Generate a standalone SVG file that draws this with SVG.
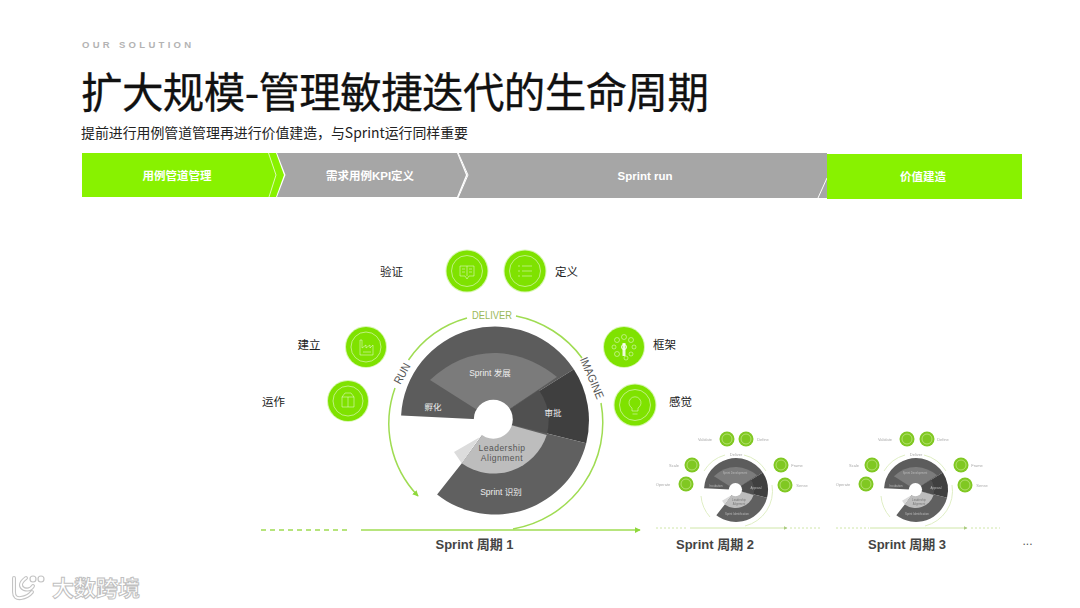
<svg xmlns="http://www.w3.org/2000/svg" xmlns:xlink="http://www.w3.org/1999/xlink" width="1080" height="608" viewBox="0 0 1080 608">
<style>
text{font-family:"Liberation Sans","Noto Sans CJK SC",sans-serif}
.cjk{font-family:"Noto Sans CJK SC","Liberation Sans",sans-serif}
.bar{font-size:11.500px;font-weight:700;fill:#fff;text-anchor:middle}
.lab{font-size:11.500px;fill:#222;text-anchor:middle}
.in{font-size:8.500px;fill:#eee;text-anchor:middle}
.cycle{font-size:13px;font-weight:700;fill:#444;text-anchor:middle}
.node{fill:#7fe200;stroke:#7fe200;stroke-opacity:.3;stroke-width:2}
.ring{fill:none;stroke:#fff;stroke-opacity:.5;stroke-width:1}
.ico{fill:none;stroke:#fff;stroke-opacity:.5;stroke-width:.9}
.arc{fill:none;stroke:#9fdc52;stroke-width:1.500}
.base{fill:none;stroke:#9fdc52;stroke-width:1.500}
.dash{stroke-dasharray:5 4}
.mnode{fill:#80c822}
.mring{fill:none;stroke:#d4eea0;stroke-width:.6}
.mtxt{font-size:4px;fill:#aaa;text-anchor:middle}
.mw{font-size:2.800px;fill:#bbb;text-anchor:middle}
.march{fill:none;stroke:#dfeec4;stroke-width:1}
.mbase{fill:none;stroke:#cfe6a8;stroke-width:1}
.mdash{stroke-dasharray:2 2}
</style>
<defs>
<marker id="ah" viewBox="0 0 8 8" refX="7" refY="4" markerWidth="6" markerHeight="6" markerUnits="userSpaceOnUse" orient="auto"><path d="M0 0L8 4L0 8Z" fill="#8fd83c"/></marker>
<marker id="ahm" viewBox="0 0 8 8" refX="7" refY="4" markerWidth="4" markerHeight="4" markerUnits="userSpaceOnUse" orient="auto"><path d="M0 0L8 4L0 8Z" fill="#aacb80"/></marker>
<filter id="soft" x="-5%" y="-5%" width="110%" height="110%"><feGaussianBlur stdDeviation="0.550"/></filter>
<g id="wheel">
<path d="M493 420L401.100 415.600A94 94 0 0 1 573.800 369.300Z" fill="#5c5c5c"/>
<path d="M430 380Q460 352 497 353Q530 355 557 377L493 420Z" fill="#7b7b7b"/>
<path d="M493 420L573.800 369.300A94 94 0 0 1 586.200 443.200Z" fill="#3f3f3f"/>
<path d="M493 420L539 390A55 55 0 0 1 546.700 435Z" fill="#505050"/>
<path d="M493 420L586.200 443.200A94 94 0 0 1 437.100 494.600L462 463Z" fill="#606060"/>
<path d="M493 420L546.700 435A55.500 55.500 0 0 1 461.700 463.300Z" fill="#bdbdbd"/>
<path d="M454 452L480 437L486 428L461.700 463.300Z" fill="#dcdcdc"/>
<circle cx="493.300" cy="419.300" r="19.500" fill="#fff"/>
</g>
</defs>
<rect width="1080" height="608" fill="#fff"/>
<text x="82" y="47.500" font-size="9.500" font-weight="700" letter-spacing="3.300" fill="#b3b3b3">OUR SOLUTION</text>
<text class="cjk" x="81" y="108" font-size="41.500" fill="#111" stroke="#111" stroke-width=".3" textLength="628" lengthAdjust="spacing">扩大规模-管理敏捷迭代的生命周期</text>
<text class="cjk" x="81" y="138" font-size="14" fill="#222" textLength="387" lengthAdjust="spacingAndGlyphs">提前进行用例管道管理再进行价值建造，与Sprint运行同样重要</text>
<g id="phase-bar">
<g id="phase-1"><path d="M82 153H276L284 175L276 197H82Z" fill="#88f200"/><path d="M268.500 153L276 175L269 197" fill="none" stroke="#fff" stroke-opacity=".7" stroke-width="1"/><text class="bar" x="177" y="180">用例管道管理</text></g>
<g id="phase-2"><path d="M277 153H457L466 175L457 197H277L285.500 175Z" fill="#a6a6a6"/><text class="bar" x="370" y="180">需求用例KPI定义</text></g>
<g id="phase-3"><path d="M458 153H827V198H458L467.500 175Z" fill="#a6a6a6"/><path d="M458 152.500L468 175L458 198" fill="none" stroke="#fff" stroke-width="1"/><path d="M827 178L818 198" stroke="#fff" stroke-width="1"/><text class="bar" x="645" y="180">Sprint run</text></g>
<g id="phase-4"><rect x="827" y="154" width="195" height="45" fill="#88f200"/><text class="bar" x="923" y="181">价值建造</text></g>
</g>
<g id="connectors">
<path class="arc" d="M408.500 360A105 105 0 0 1 467 318"/>
<path class="arc" d="M516 316A107 107 0 0 1 582 358"/>
<path class="arc" d="M601 403A108 108 0 0 1 513 529"/>
<path class="arc" d="M395 388A105 105 0 0 0 418 496" marker-end="url(#ah)"/>
<path class="base dash" d="M261 530H350"/>
<path class="base" d="M361 530H640" marker-end="url(#ah)"/>
</g>
<g id="main-wheel">
<use href="#wheel"/>
<text class="in" x="490" y="376">Sprint 发展</text>
<text class="in" x="433" y="410">孵化</text>
<text class="in" x="553" y="416">审批</text>
<text class="in" x="502" y="451" style="fill:#555;letter-spacing:.5px">Leadership</text>
<text class="in" x="502" y="461" style="fill:#555;letter-spacing:.5px">Alignment</text>
<text class="in" x="501" y="495">Sprint 识别</text>
<text x="492" y="319" font-size="10.500" fill="#9ab85a" text-anchor="middle" textLength="40" lengthAdjust="spacingAndGlyphs">DELIVER</text>
<text transform="translate(402 373.500) rotate(-61)" y="4" font-size="11.500" fill="#555" text-anchor="middle" textLength="22" lengthAdjust="spacingAndGlyphs">RUN</text>
<text transform="translate(592 378) rotate(67)" y="4" font-size="11.500" fill="#555" text-anchor="middle" textLength="44" lengthAdjust="spacingAndGlyphs">IMAGINE</text>
</g>
<g id="node-validate"><circle class="node" cx="467" cy="271" r="20.500"/><circle class="ring" cx="467" cy="271" r="15.500"/><path class="ico" d="M460 266H474V276H469L467 279L465 276H460ZM467 266V276M462 269H465M469 269H472M462 272H465M469 272H472"/><text class="lab cjk" x="391.500" y="275.500">验证</text></g>
<g id="node-define"><circle class="node" cx="525" cy="271" r="20.500"/><circle class="ring" cx="525" cy="271" r="15.500"/><path class="ico" d="M518 266H520M522 266H532M518 271H520M522 271H532M518 276H520M522 276H532"/><text class="lab cjk" x="566.500" y="275.500">定义</text></g>
<g id="node-build"><circle class="node" cx="366" cy="347" r="20"/><circle class="ring" cx="366" cy="347" r="15"/><path class="ico" d="M360 355V340H362V348L366 345V348L370 345V348L373 345V355ZM363 352H371"/><text class="lab cjk" x="309" y="348.500">建立</text></g>
<g id="node-operate"><circle class="node" cx="348" cy="401" r="20"/><circle class="ring" cx="348" cy="401" r="15"/><path class="ico" d="M342 397H354V407H342ZM342 397L345 393H351L354 397M348 397V407"/><text class="lab cjk" x="273.500" y="406">运作</text></g>
<g id="node-frame"><circle class="node" cx="624" cy="347" r="20"/><circle class="ring" cx="624" cy="347" r="2.500" style="stroke-opacity:.9"/><path class="ico" d="M624 343V356" style="stroke-width:3;stroke-opacity:.85"/><g class="ico"><circle cx="624" cy="337" r="2.500"/><circle cx="617" cy="340" r="2.500"/><circle cx="631" cy="340" r="2.500"/><circle cx="614" cy="347" r="2"/><circle cx="634" cy="347" r="2"/><circle cx="617" cy="354" r="2.500"/><circle cx="631" cy="354" r="2"/><circle cx="626" cy="358" r="2"/></g><text class="lab cjk" x="664.500" y="348.500">框架</text></g>
<g id="node-sense"><circle class="node" cx="635" cy="405" r="20.500"/><circle class="ring" cx="635" cy="405" r="15.500"/><path class="ico" d="M632 411V408A6 6 0 1 1 638 408V411ZM632.500 414H637.500"/><text class="lab cjk" x="680.500" y="406">感觉</text></g>
<g id="sprint-1-label"><text class="cycle" x="474.500" y="549">Sprint 周期 1</text></g>
<g id="sprint-2" filter="url(#soft)">
<g transform="translate(736 490) scale(.34) translate(-495 -420.500)"><use href="#wheel"/></g>
<path class="march" d="M704 471A36 36 0 0 1 725 455M744 455A36 36 0 0 1 766 471M772 485A36 36 0 0 1 745 526M701 496A36 36 0 0 0 710 517"/>
<path class="mbase mdash" d="M656 528H688M790 528H820"/><path class="mbase" d="M690 528H787" marker-end="url(#ahm)"/>
<text class="mw" x="735" y="474">Sprint Development</text><text class="mw" x="716" y="487">Incubation</text><text class="mw" x="756" y="489">Approval</text><text class="mw" x="739" y="501" style="fill:#777">Leadership</text><text class="mw" x="739" y="505" style="fill:#777">Alignment</text><text class="mw" x="737" y="515">Sprint Identification</text>
<text class="mtxt" x="736" y="456">Deliver</text>
<circle class="mnode" cx="727" cy="439" r="7.500"/><circle class="mnode" cx="746" cy="439" r="7.500"/><circle class="mnode" cx="692" cy="465" r="7.500"/><circle class="mnode" cx="686" cy="484" r="7.500"/><circle class="mnode" cx="781" cy="465" r="7.500"/><circle class="mnode" cx="785" cy="485" r="7.500"/>
<circle class="mring" cx="727" cy="439" r="5"/><circle class="mring" cx="746" cy="439" r="5"/><circle class="mring" cx="692" cy="465" r="5"/><circle class="mring" cx="686" cy="484" r="5"/><circle class="mring" cx="781" cy="465" r="5"/><circle class="mring" cx="785" cy="485" r="5"/>
<text class="mtxt" x="705" y="440.500">Validate</text><text class="mtxt" x="763" y="440.500">Define</text><text class="mtxt" x="674" y="466.500">Scale</text><text class="mtxt" x="663" y="485.500">Operate</text><text class="mtxt" x="797" y="466.500">Frame</text><text class="mtxt" x="802" y="486.500">Sense</text>
</g>
<g id="sprint-2-label"><text class="cycle" x="715" y="549">Sprint 周期 2</text></g>
<g id="sprint-3" filter="url(#soft)">
<g transform="translate(916 490) scale(.34) translate(-495 -420.500)"><use href="#wheel"/></g>
<path class="march" d="M884 471A36 36 0 0 1 905 455M924 455A36 36 0 0 1 946 471M952 485A36 36 0 0 1 925 526M881 496A36 36 0 0 0 890 517"/>
<path class="mbase mdash" d="M836 528H869M971 528H1000"/><path class="mbase" d="M870 528H967" marker-end="url(#ahm)"/>
<text class="mw" x="915" y="474">Sprint Development</text><text class="mw" x="896" y="487">Incubation</text><text class="mw" x="936" y="489">Approval</text><text class="mw" x="919" y="501" style="fill:#777">Leadership</text><text class="mw" x="919" y="505" style="fill:#777">Alignment</text><text class="mw" x="917" y="515">Sprint Identification</text>
<text class="mtxt" x="916" y="456">Deliver</text>
<circle class="mnode" cx="907" cy="439" r="7.500"/><circle class="mnode" cx="927" cy="439" r="7.500"/><circle class="mnode" cx="872" cy="465" r="7.500"/><circle class="mnode" cx="866" cy="484" r="7.500"/><circle class="mnode" cx="961" cy="465" r="7.500"/><circle class="mnode" cx="965" cy="485" r="7.500"/>
<circle class="mring" cx="907" cy="439" r="5"/><circle class="mring" cx="927" cy="439" r="5"/><circle class="mring" cx="872" cy="465" r="5"/><circle class="mring" cx="866" cy="484" r="5"/><circle class="mring" cx="961" cy="465" r="5"/><circle class="mring" cx="965" cy="485" r="5"/>
<text class="mtxt" x="885" y="440.500">Validate</text><text class="mtxt" x="943" y="440.500">Define</text><text class="mtxt" x="854" y="466.500">Scale</text><text class="mtxt" x="843" y="485.500">Operate</text><text class="mtxt" x="977" y="466.500">Frame</text><text class="mtxt" x="982" y="486.500">Sense</text>
</g>
<g id="sprint-3-label"><text class="cycle" x="907" y="549">Sprint 周期 3</text></g>
<text x="1027.500" y="545" font-size="12" fill="#555" text-anchor="middle">...</text>
<g id="watermark">
<path d="M14 578V592Q14 599 21 598Q28 597 32 592M26 578Q17 585 24 589Q30 591 33 586" fill="none" stroke="#c4c4c4" stroke-width="4" stroke-linecap="round"/>
<path d="M14 578V592Q14 599 21 598Q28 597 32 592M26 578Q17 585 24 589Q30 591 33 586" fill="none" stroke="#fff" stroke-width="1.800" stroke-linecap="round"/>
<circle cx="33" cy="579" r="3" fill="#fff" stroke="#c4c4c4" stroke-width="1.200"/><circle cx="41" cy="579" r="3" fill="#fff" stroke="#c4c4c4" stroke-width="1.200"/>
<text class="cjk" x="52" y="596" font-size="22" font-weight="700" fill="#fff" stroke="#c0c0c0" stroke-width="1" textLength="88" lengthAdjust="spacingAndGlyphs">大数跨境</text>
</g>
</svg>
